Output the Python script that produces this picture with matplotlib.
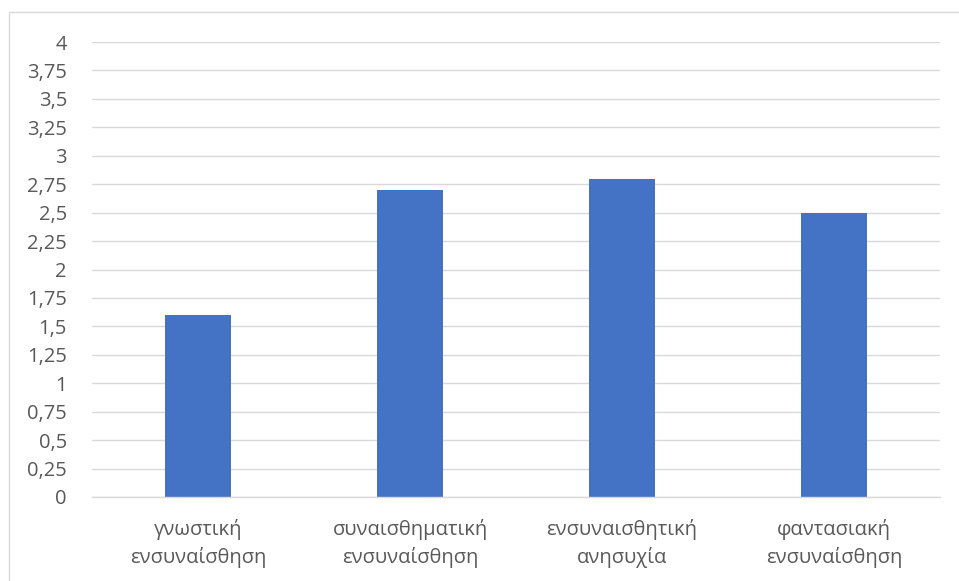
import matplotlib
matplotlib.use("Agg")
import matplotlib.pyplot as plt
from matplotlib.patches import Rectangle
import numpy as np

categories = ["γνωστική\nενσυναίσθηση", "συναισθηματική\nενσυναίσθηση",
              "ενσυναισθητική\nανησυχία", "φαντασιακή\nενσυναίσθηση"]
values = [1.6, 2.7, 2.8, 2.5]
yticks = [0, 0.25, 0.5, 0.75, 1, 1.25, 1.5, 1.75, 2, 2.25, 2.5, 2.75, 3, 3.25, 3.5, 3.75, 4]
ytick_labels = [("%g" % v).replace(".", ",") for v in yticks]

plt.rcParams['font.family'] = ['Open Sans', 'DejaVu Sans']

W, H = 959, 581
fig = plt.figure(figsize=(W / 100, H / 100), dpi=100)
fig.patch.set_facecolor("white")

# outer chart border
fig.patches.append(Rectangle((9 / W, -0.1), 1.2, 1 - 12.5 / H + 0.1, transform=fig.transFigure,
                             fill=False, edgecolor="#D9D9D9", linewidth=1.0))

ax = fig.add_axes([92 / W, 1 - 497 / H, (940 - 92) / W, (497 - 42) / H])
x = np.arange(len(categories))
ax.bar(x, values, width=0.31, color="#4472C4", zorder=3)
ax.set_xlim(-0.5, len(categories) - 0.5)
ax.set_ylim(0, 4)
ax.set_yticks(yticks)
ax.set_yticklabels(ytick_labels)
ax.set_xticks(x)
ax.set_xticklabels(categories, linespacing=1.4)
ax.grid(axis="y", color="#D9D9D9", linewidth=1.0, zorder=0)
for s in ["top", "right", "left"]:
    ax.spines[s].set_visible(False)
ax.spines["bottom"].set_color("#D9D9D9")
ax.spines["bottom"].set_linewidth(1.0)
ax.spines["bottom"].set_zorder(4)
ax.tick_params(axis="y", length=0, pad=18, labelsize=14.5, labelcolor="#595959")
ax.tick_params(axis="x", length=0, pad=16, labelsize=14.5, labelcolor="#595959")

fig.savefig("out.png", dpi=100, facecolor="white")
